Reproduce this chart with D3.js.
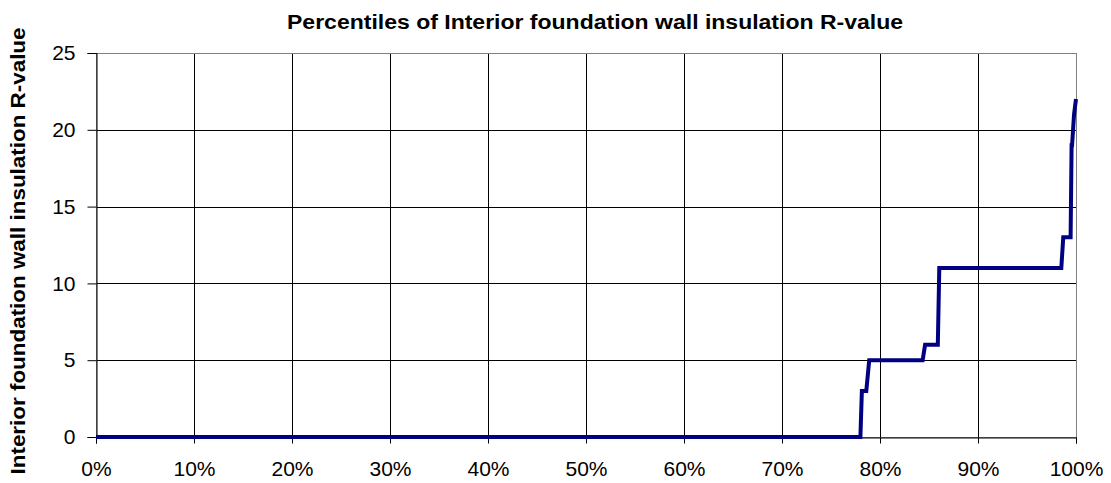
<!DOCTYPE html>
<html><head><meta charset="utf-8">
<script src="https://cdn.jsdelivr.net/npm/d3@7"></script>
<style>body{margin:0;background:#fff}svg{display:block;font-family:"Liberation Sans",Arial,sans-serif}</style>
</head><body><div id="chart"></div>
<script>
const titleText = "Percentiles of Interior foundation wall insulation R-value";
const yLabelText = "Interior foundation wall insulation R-value";
const percentiles = [0, 78.0, 78.15, 78.6, 78.9, 84.35, 84.6, 85.9, 86.05, 98.5, 98.7, 99.45, 99.55, 99.6, 99.8, 100];
const rValues     = [0, 0,    3,     3,    5,    5,     6,    6,    11,    11,   13,   13,    19,    19,   21,   22];
const xTicks = [0,10,20,30,40,50,60,70,80,90,100];
const yTicks = [0,5,10,15,20,25];

const W=1111,H=483;
const m={left:96,right:1111-1076,top:53,bottom:483-437};
const svg=d3.select("#chart").append("svg").attr("width",W).attr("height",H);
const x=d3.scaleLinear().domain([0,100]).range([m.left,W-m.right]);
const y=d3.scaleLinear().domain([0,25]).range([H-m.bottom,m.top]);

// gridlines
svg.append("g").selectAll("line").data(yTicks.filter(d=>d>0)).join("line")
  .attr("x1",x(0)).attr("x2",x(100)).attr("y1",d=>Math.round(y(d))+0.5).attr("y2",d=>Math.round(y(d))+0.5)
  .attr("stroke","#000").attr("stroke-width",1);
svg.append("g").selectAll("line").data(xTicks.filter(d=>d>0&&d<100)).join("line")
  .attr("y1",y(0)).attr("y2",y(25)).attr("x1",d=>Math.round(x(d))+0.5).attr("x2",d=>Math.round(x(d))+0.5)
  .attr("stroke","#000").attr("stroke-width",1);
// plot border (top/right gray)
svg.append("rect").attr("x",x(0)+0.5).attr("y",Math.round(y(25))+0.5)
  .attr("width",x(100)-x(0)).attr("height",y(0)-y(25))
  .attr("fill","none").attr("stroke","#808080");

const font="'Liberation Sans',Arial,sans-serif";
// axes
const yAxis=d3.axisLeft(y).tickValues(yTicks).tickSize(9).tickPadding(12);
const gy=svg.append("g").attr("transform",`translate(${Math.round(x(0))+0.5},0)`).call(yAxis);
gy.selectAll("text").attr("font-size","21px").attr("fill","#000").style("font-family",font);
gy.select(".domain").attr("stroke","#000");
gy.selectAll(".tick line").attr("stroke","#000");

const xAxis=d3.axisBottom(x).tickValues(xTicks).tickFormat(d=>d+"%").tickSize(6).tickPadding(18);
const gx=svg.append("g").attr("transform",`translate(0,${Math.round(y(0))+0.5})`).call(xAxis);
gx.selectAll("text").attr("font-size","21px").attr("fill","#000").style("font-family",font);
gx.select(".domain").attr("stroke","#000");
gx.selectAll(".tick line").attr("stroke","#000");

// line
const pts=percentiles.map((p,i)=>[p,rValues[i]]);
svg.append("path").datum(pts)
  .attr("d",d3.line().x(d=>x(d[0])).y(d=>y(d[1])))
  .attr("fill","none").attr("stroke","#000080").attr("stroke-width",4).attr("stroke-linejoin","miter");

// title
svg.append("text").attr("x",595).attr("y",29).attr("text-anchor","middle")
  .attr("font-size","20px").attr("font-weight","bold").attr("textLength",616).attr("lengthAdjust","spacingAndGlyphs").text(titleText);
// y label
svg.append("text").attr("transform",`translate(25,251) rotate(-90)`)
  .attr("text-anchor","middle").attr("font-size","20px").attr("font-weight","bold").attr("textLength",447).attr("lengthAdjust","spacingAndGlyphs").text(yLabelText);
</script></body></html>
